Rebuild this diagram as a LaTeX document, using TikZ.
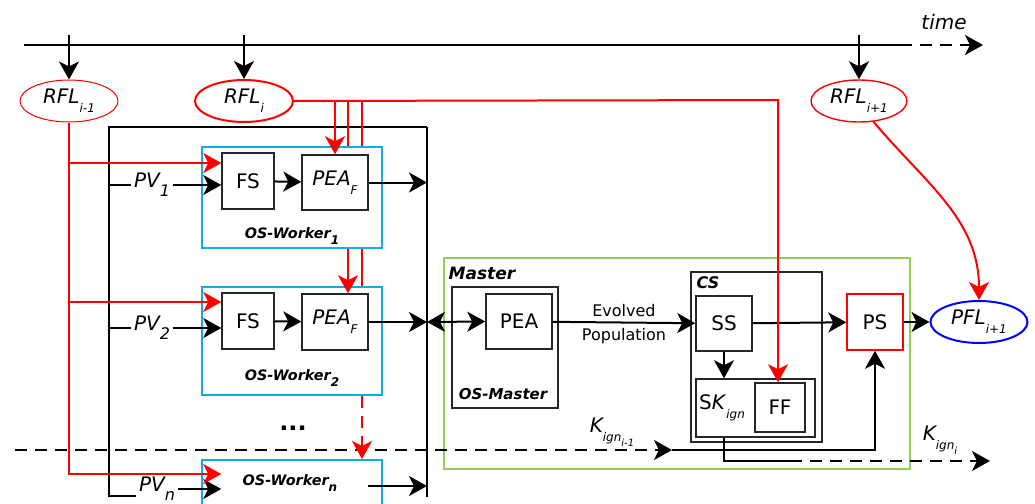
\documentclass[tikz,border=0pt]{standalone}
\usepackage{fontspec}
\setmainfont{DejaVu Sans}
\usetikzlibrary{shapes.geometric, arrows.meta, positioning, calc}
\definecolor{wcyan}{RGB}{20,170,230}
\definecolor{mgreen}{RGB}{150,205,90}
\newcommand{\lowidx}[2][\fontsize{6}{7}\selectfont]{\raisebox{-0.8ex}{#1#2}}

\begin{document}
\begin{tikzpicture}[x=0.5pt, y=-0.5pt, >={Stealth[length=9pt,width=10pt,inset=2.5pt]}, line width=1pt,
    rfl/.style={ellipse, draw=red, inner sep=0pt, minimum width=49pt, minimum height=21pt, font=\itshape},
    blk/.style={draw=black!85, line width=0.75pt, inner sep=0pt},
    wbox/.style={draw=wcyan, line width=1pt, inner sep=0pt},
    redl/.style={red, line width=1pt},
    kdash/.style={dash pattern=on 6pt off 4pt},
    lbl/.style={font=\bfseries\itshape\fontsize{7.2}{9}\selectfont}]
    \useasboundingbox (0,0) rectangle (1035,504);
    \clip (0,0) rectangle (1035,504);

    % Time axis
    \coordinate (t0) at (24,45);
    \coordinate (t1) at (225,45);
    \coordinate (t2) at (900,45);
    \coordinate (t3) at (983,45);
    \draw[line width=1.3pt] (t0) -- (t1);
    \draw (t1) -- (t2);
    \draw[kdash, ->] (t2) -- (t3);
    \node[font=\itshape] (time) at (944,22) {time};

    % Fitness levels
    \node[rfl, line width=0.5pt] (rflA) at (69,101) {RFL\lowidx{i-1}};
    \node[rfl] (rflB) at (244,101) {RFL\lowidx{i}};
    \node[rfl, line width=0.7pt, minimum width=48pt] (rflC) at (859,101) {RFL\lowidx{i+1}};
    \node[rfl, draw=blue, line width=1pt, minimum width=48.5pt] (pfl) at (979,322) {PFL\lowidx{i+1}};
    \foreach \x/\n in {69/rflA, 244/rflB, 859/rflC} {
        \coordinate (tk\n) at (\x,35);
        \draw[->] (tk\n) -- (\n);
    }

    % Workers
    \node[wbox, minimum width=90pt, minimum height=50.5pt] (w1) at (292,197.5) {};
    \node[blk, minimum width=26pt, minimum height=28pt] (fs1) at (248,181) {FS};
    \node[blk, minimum width=33pt, minimum height=27.5pt, font=\itshape] (pea1) at (335,182.5) {PEA\lowidx{F}};
    \node[lbl] (w1lbl) at (292,236) {OS-Worker\lowidx{1}};

    \node[wbox, minimum width=90pt, minimum height=54pt] (w2) at (292,341) {};
    \node[blk, minimum width=26pt, minimum height=28pt] (fs2) at (248,321) {FS};
    \node[blk, minimum width=33pt, minimum height=28pt, font=\itshape] (pea2) at (335,322) {PEA\lowidx{F}};
    \node[lbl] (w2lbl) at (292,378) {OS-Worker\lowidx{2}};

    \node[font=\bfseries\large] (dots) at (293,428) {...};

    \node[wbox, minimum width=90pt, minimum height=30pt] (wn) at (292,490) {};
    \node[lbl] (wnlbl) at (290,483) {OS-Worker\lowidx{n}};

    % Problem variants
    \node[font=\itshape, inner sep=1pt] (pv1) at (152,185) {PV\lowidx[\footnotesize]{1}};
    \node[font=\itshape, inner sep=1pt] (pv2) at (152,328) {PV\lowidx[\footnotesize]{2}};
    \node[font=\itshape, inner sep=1pt] (pvn) at (157,489) {PV\lowidx[\footnotesize]{n}};

    % Frame of the workers
    \coordinate (fl) at (109,127);
    \coordinate (fr) at (427,127);
    \coordinate (fre) at (427,497);
    \coordinate (pvc) at (109,496);
    \draw (fr) -- (fl) -- (pvc) -- (pvc -| pvn.west);
    \draw (fr) -- (fre);
    \draw (fl |- pv1) -- (pv1.west);
    \draw (fl |- pv2) -- (pv2.west);
    \draw[->] (pv1.east) -- (pv1 -| fs1.west);
    \draw[->] (pv2.east) -- (pv2 -| fs2.west);
    \draw[->] (pvn.east) -- (pvn -| fs1.west);
    \draw[->] (fs1) -- (pea1);
    \draw[->] (fs2) -- (pea2);
    \draw[->] (pea1.east) -- (pea1 -| fr);
    \draw[->] (pea2.east) -- (pea2 -| fr);
    \coordinate (wno) at (368,486);
    \draw[->] (wno) -- (wno -| fr);

    % Master
    \node[draw=mgreen, line width=1pt, inner sep=0pt, minimum width=233pt, minimum height=105.5pt] (master) at (677,363.5) {};
    \node[lbl, font=\bfseries\itshape\fontsize{8.5}{10}\selectfont] (mlbl) at (482,273) {Master};
    \node[blk, minimum width=53pt, minimum height=60.5pt] (osm) at (505,347.5) {};
    \node[blk, minimum width=33pt, minimum height=27.5pt] (pea) at (519,321.5) {PEA};
    \node[lbl, font=\bfseries\itshape\fontsize{7.5}{9}\selectfont] (osmlbl) at (503,394) {OS-Master};
    \draw[<->] (pea2 -| fr) -- (pea.west);

    % Cluster selection
    \node[blk, minimum width=65.5pt, minimum height=85pt] (cs) at (756.5,357) {};
    \node[lbl, font=\bfseries\itshape\fontsize{8}{10}\selectfont] (cslbl) at (708,283) {CS};
    \node[blk, minimum width=28pt, minimum height=27.5pt] (ss) at (724,323.5) {SS};
    \node[blk, minimum width=59.5pt, minimum height=29pt] (sk) at (755.5,408) {};
    \node[blk, minimum width=25pt, minimum height=24.5pt] (ff) at (780,407.5) {FF};
    \node (sklbl) at (722,408) {S\textit{K}\lowidx{\itshape ign}};
    \node[blk, draw=red, minimum width=28pt, minimum height=28pt] (ps) at (875,322) {PS};

    \draw[->] (pea) -- (ss)
        node[midway, above=-1pt, font=\footnotesize] (evo) {Evolved}
        node[midway, below=-1pt, font=\footnotesize] (pop) {Population};
    \draw[->] (ss.south) -- (ss.south |- sk.north);
    \draw[->] (ss) -- (ps);
    \draw[->] (ps) -- (pfl);

    % Ignition keys
    \coordinate (kin) at (15,450);
    \coordinate (kmid) at (672,450);
    \draw[kdash, ->] (kin) -- (kmid);
    \draw[->] (kmid) -| (ps.south);
    \node[font=\itshape] (kA) at (612,432) {K\lowidx{ign\lowidx[\tiny]{i-1}}};
    \coordinate (kout0) at (790,461);
    \coordinate (kout) at (990,461);
    \draw (ss.south |- sk.south) |- (kout0);
    \draw[kdash, ->] (kout0) -- (kout);
    \node[font=\itshape] (kB) at (940,440) {K\lowidx{ign\lowidx[\tiny]{i}}};

    % Red flows
    \coordinate (ra1) at (69,163);
    \coordinate (ra2) at (69,302);
    \coordinate (ra3) at (69,474);
    \draw[redl, ->] (rflA.south) |- (ra3 -| fs1.west);
    \draw[redl, ->] (ra1) -- (ra1 -| fs1.west);
    \draw[redl, ->] (ra2) -- (ra2 -| fs2.west);

    \coordinate (rc) at (778,100);
    \coordinate (rb1) at (348,100);
    \coordinate (rb2) at (362,100);
    \draw[redl, ->] (rflB.east) -- (rc) -- (rc |- ff.north);
    \draw[redl, ->] (pea1.north |- rc) -- (pea1.north);
    \draw[redl] (rb1) -- (rb1 |- w1.north);
    \draw[redl] (rb2) -- (rb2 |- w1.north);
    \draw[redl, ->] (rb1 |- w1.south) -- (rb1 |- pea2.north);
    \draw[redl] (rb2 |- w1.south) -- (rb2 |- w2.north);
    \draw[redl, kdash, ->] (rb2 |- w2.south) -- (rb2 |- wn.north);
    \draw[redl, ->] (rflC.-55) to[out=-50, in=90] (pfl.north);
\end{tikzpicture}
\end{document}
